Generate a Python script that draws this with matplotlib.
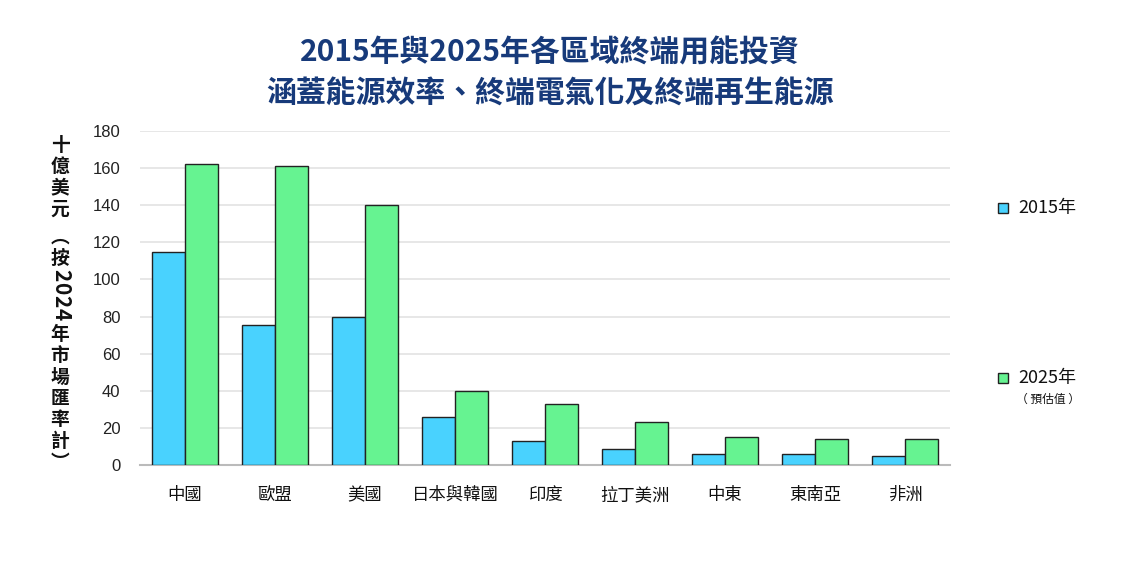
import matplotlib
matplotlib.use("Agg")
import matplotlib.pyplot as plt
import numpy as np

plt.rcParams['font.family'] = ['Noto Sans CJK TC', 'DejaVu Sans']

categories = ['中國', '歐盟', '美國', '日本與韓國', '印度', '拉丁美洲', '中東', '東南亞', '非洲']
values_2015 = [115, 75.5, 79.5, 25.7, 13.1, 8.6, 5.9, 5.9, 5.0]
values_2025 = [162, 161, 140, 39.7, 32.7, 23.3, 14.9, 14.0, 13.8]
yticks = [0, 20, 40, 60, 80, 100, 120, 140, 160, 180]
series_names = ['2015年', '2025年']
title_lines = ['2015年與2025年各區域終端用能投資', '涵蓋能源效率、終端電氣化及終端再生能源']
ylabel_parts = ['十', '億', '美', '元', '︵', '按', '2', '0', '2', '4', '年', '市', '場', '匯', '率', '計', '︶']

BLUE = '#49d2fe'
GREEN = '#66f391'
NAVY = '#173a7a'

W, H = 1127, 561
fig = plt.figure(figsize=(W / 100, H / 100), dpi=100)
ax = fig.add_axes([140 / W, 1 - 465 / H, 810 / W, 334 / H])

x = np.arange(len(categories))
bw = 33 / 90
ax.bar(x - bw / 2, values_2015, bw, color=BLUE, edgecolor='#222222', linewidth=1.0, zorder=3)
ax.bar(x + bw / 2, values_2025, bw, color=GREEN, edgecolor='#222222', linewidth=1.0, zorder=3)

ax.set_xlim(-0.5, len(categories) - 0.5)
ax.set_ylim(0, 180)
ax.set_yticks(yticks)
ax.set_yticklabels([str(v) for v in yticks], fontfamily='Liberation Sans', fontsize=12, color='#222222')
ax.set_xticks(x)
ax.set_xticklabels(categories, fontsize=12.5, color='#111111')
ax.tick_params(axis='both', length=0)
ax.tick_params(axis='x', pad=15)
ax.tick_params(axis='y', pad=14)
ax.grid(axis='y', color='#e3e3e3', linewidth=1.2, zorder=0)
for s in ['top', 'right', 'left']:
    ax.spines[s].set_visible(False)
ax.spines['bottom'].set_color('#bbbbbb')
ax.spines['bottom'].set_linewidth(1.5)

# title
fig.text(550 / W, 1 - 52 / H, title_lines[0], ha='center', va='center', fontsize=21.5,
         fontweight='bold', color=NAVY)
fig.text(550 / W, 1 - 93 / H, title_lines[1], ha='center', va='center', fontsize=21.5,
         fontweight='bold', color=NAVY)

# vertical y label (vertical typesetting: CJK upright, digits rotated)
y = 145
prev_digit = False
for part in ylabel_parts:
    if part.isdigit():
        if not prev_digit:
            y += -21.3 + 17
        fig.text(61 / W, 1 - y / H, part, ha='center', va='center', fontsize=15,
                 fontweight='bold', rotation=-90, color='#111111')
        y += 13
        prev_digit = True
    else:
        if prev_digit:
            y += 20 - 13
        if part == '︵':
            y += 7
        fig.text(60 / W, 1 - y / H, part, ha='center', va='center', fontsize=13.5,
                 fontweight='bold', color='#111111')
        y += 21.3
        prev_digit = False

# legend
for (ly, name, col) in [(208, series_names[0], BLUE), (378, series_names[1], GREEN)]:
    fig.patches.append(plt.Rectangle((998 / W, 1 - (ly + 5) / H), 10 / W, 10 / H,
                                     transform=fig.transFigure, facecolor=col,
                                     edgecolor='#222222', linewidth=1.0))
    fig.text(1018 / W, 1 - ly / H, name, ha='left', va='center', fontsize=13, color='#111111')
fig.text(1048 / W, 1 - 399 / H, '（ 預估值 ）', ha='center', va='center', fontsize=8.5, color='#111111')

fig.savefig('out.png', dpi=100, facecolor='white')
